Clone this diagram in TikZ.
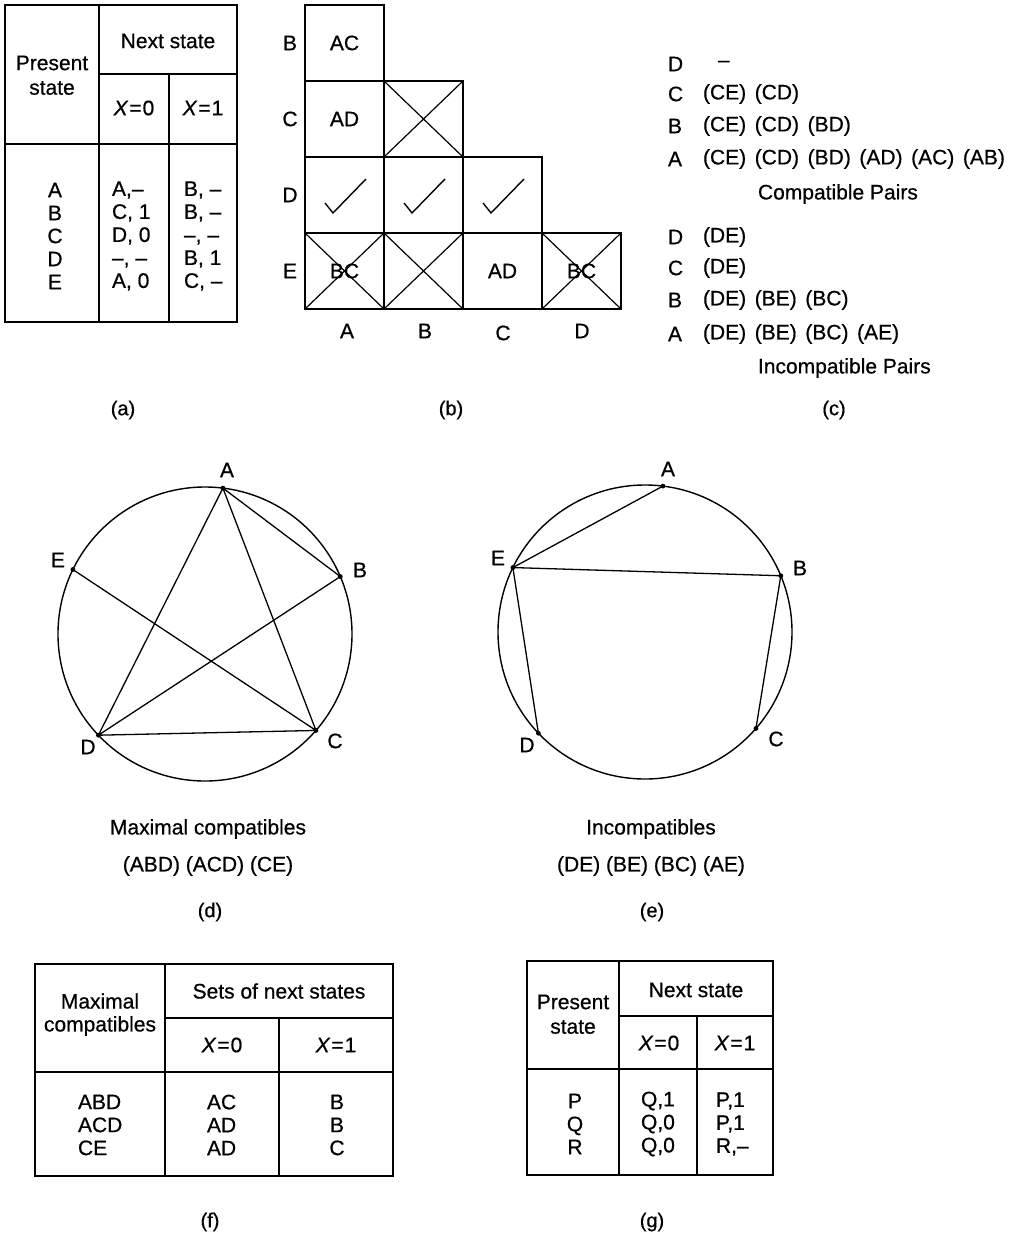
\documentclass[tikz,border=0pt]{standalone}
\usepackage{fontspec}
\setmainfont{Liberation Sans}[FakeBold=0.6]
\usetikzlibrary{calc}
\begin{document}
\begin{tikzpicture}[x=1pt,y=-1pt,
  every node/.style={inner sep=0pt,outer sep=0pt,font=\fontsize{21}{23}\selectfont},
  tbl/.style={line width=1.4pt},
  cell/.style={draw,line width=1.6pt,minimum width=79pt,minimum height=76pt},
  cross/.style={line width=1.2pt},
  chk/.style={line width=1.4pt},
  circ/.style={line width=1.4pt},
  chord/.style={line width=1.3pt},
  figlbl/.style={font=\fontsize{20}{22}\selectfont},
  rows/.style={align=left,font=\fontsize{21}{23}\selectfont},
  rowsc/.style={align=center,font=\fontsize{21}{23}\selectfont},
]
\useasboundingbox (0,0) rectangle (1013,1239);

% ---------------- (a) ----------------
\draw[tbl] (5,5) rectangle (237,322);
\draw[tbl] (99,5) -- (99,322);
\draw[tbl] (5,144) -- (237,144);
\draw[tbl] (99,74) -- (237,74);
\draw[tbl] (169,74) -- (169,322);
\node (aP1) at (52,63) {Present};
\node (aP2) at (52,88) {state};
\node (aNS) at (168,41) {Next state};
\node (aX0) at (134,108) {\textit{X}\kern1pt=\kern1pt0};
\node (aX1) at (203,108) {\textit{X}\kern1pt=\kern1pt1};
\node[rowsc] (aR1) at (55,236) {A\\B\\C\\D\\E};
\node[rows,anchor=west] (aR2) at (112,236) {A,--\\C, 1\\D, 0\\--, --\\A, 0};
\node[rows,anchor=west] (aR3) at (184,236) {B, --\\B, --\\--, --\\B, 1\\C, --};
\node[figlbl] (la) at (123,410) {(a)};

% ---------------- (b) ----------------
\node[cell] (cBA) at (344.5,43) {AC};
\node[cell] (cCA) at (344.5,119) {AD};
\node[cell] (cCB) at (423.5,119) {};
\node[cell] (cDA) at (344.5,195) {};
\node[cell] (cDB) at (423.5,195) {};
\node[cell] (cDC) at (502.5,195) {};
\node[cell] (cEA) at (344.5,271) {};
\node[cell] (cEB) at (423.5,271) {};
\node[cell] (cEC) at (502.5,271) {AD};
\node[cell] (cED) at (581.5,271) {};
\foreach \c in {cCB,cEA,cEB,cED}{
  \draw[cross] (\c.north west) -- (\c.south east) (\c.north east) -- (\c.south west);
}
\node (tEA) at (cEA) {BC};
\node (tED) at (cED) {BC};
\foreach \c in {cDA,cDB,cDC}{
  \draw[chk] ([shift={(20,46)}]\c.north west) -- ([shift={(28,56)}]\c.north west) -- ([shift={(61,22)}]\c.north west);
}
\node (rB) at (290,43) {B};
\node (rC) at (290,119) {C};
\node (rD) at (290,195) {D};
\node (rE) at (290,271) {E};
\node (kA) at (347,331) {A};
\node (kB) at (425,331) {B};
\node (kC) at (503,333) {C};
\node (kD) at (582,331) {D};
\node[figlbl] (lb) at (451,410) {(b)};

% ---------------- (c) ----------------
\node[anchor=west] (c1l) at (668,64) {D};
\node[anchor=west] (c1r) at (718,64) {--};
\node[anchor=west] (c2l) at (668,94) {C};
\node[anchor=west] (c2r) at (703,94) {(CE)\hspace{8.6pt}(CD)};
\node[anchor=west] (c3l) at (668,126) {B};
\node[anchor=west] (c3r) at (703,126) {(CE)\hspace{8.6pt}(CD)\hspace{8.6pt}(BD)};
\node[anchor=west] (c4l) at (668,159) {A};
\node[anchor=west] (c4r) at (703,159) {(CE)\hspace{8.6pt}(CD)\hspace{8.6pt}(BD)\hspace{8.6pt}(AD)\hspace{8.6pt}(AC)\hspace{8.6pt}(AB)};
\node[anchor=west] (cCP) at (758,194) {Compatible Pairs};
\node[anchor=west] (c5l) at (668,237) {D};
\node[anchor=west] (c5r) at (703,237) {(DE)};
\node[anchor=west] (c6l) at (668,268) {C};
\node[anchor=west] (c6r) at (703,268) {(DE)};
\node[anchor=west] (c7l) at (668,300) {B};
\node[anchor=west] (c7r) at (703,300) {(DE)\hspace{8.6pt}(BE)\hspace{8.6pt}(BC)};
\node[anchor=west] (c8l) at (668,334) {A};
\node[anchor=west] (c8r) at (703,334) {(DE)\hspace{8.6pt}(BE)\hspace{8.6pt}(BC)\hspace{8.6pt}(AE)};
\node[anchor=west] (cIP) at (758,368) {Incompatible Pairs};
\node[figlbl] (lc) at (834,410) {(c)};

% ---------------- (d) ----------------
\coordinate (dc) at (205,634);
\draw[circ] (dc) circle[radius=147pt];
\coordinate (dA) at ($(dc)+(83:147pt)$);
\coordinate (dB) at ($(dc)+(23:147pt)$);
\coordinate (dC) at ($(dc)+(319:147pt)$);
\coordinate (dD) at ($(dc)+(223.5:147pt)$);
\coordinate (dE) at ($(dc)+(154:147pt)$);
\draw[chord] (dA) -- (dD) (dA) -- (dC) (dA) -- (dB) (dE) -- (dC) (dB) -- (dD) (dD) -- (dC);
\foreach \p in {dA,dB,dC,dD,dE}{\fill (\p) circle[radius=2.4pt];}
\node (dlA) at (227,470) {A};
\node (dlB) at (360,570) {B};
\node (dlC) at (335,741) {C};
\node (dlD) at (88,747) {D};
\node (dlE) at (58,560) {E};
\node (dcap1) at (208,829) {Maximal compatibles};
\node (dcap2) at (208,866) {(ABD) (ACD) (CE)};
\node[figlbl] (ld) at (210,912) {(d)};

% ---------------- (e) ----------------
\coordinate (ec) at (645,632);
\draw[circ] (ec) circle[radius=147pt];
\coordinate (eA) at ($(ec)+(83:147pt)$);
\coordinate (eB) at ($(ec)+(22.5:147pt)$);
\coordinate (eC) at ($(ec)+(319:147pt)$);
\coordinate (eD) at ($(ec)+(223.5:147pt)$);
\coordinate (eE) at ($(ec)+(154:147pt)$);
\draw[chord] (eE) -- (eA) (eE) -- (eB) (eE) -- (eD) (eB) -- (eC);
\foreach \p in {eA,eB,eC,eD,eE}{\fill (\p) circle[radius=2.4pt];}
\node (elA) at (668,469) {A};
\node (elB) at (800,568) {B};
\node (elC) at (776,739) {C};
\node (elD) at (527,745) {D};
\node (elE) at (498,558) {E};
\node (ecap1) at (651,829) {Incompatibles};
\node (ecap2) at (651,866) {(DE) (BE) (BC) (AE)};
\node[figlbl] (le) at (652,912) {(e)};

% ---------------- (f) ----------------
\draw[tbl] (35,964) rectangle (393,1176);
\draw[tbl] (165,964) -- (165,1176);
\draw[tbl] (35,1072) -- (393,1072);
\draw[tbl] (165,1018) -- (393,1018);
\draw[tbl] (279,1018) -- (279,1176);
\node (fM1) at (100,1001) {Maximal};
\node (fM2) at (100,1026) {compatibles};
\node (fS) at (279,991) {Sets of next states};
\node (fX0) at (222,1045) {\textit{X}\kern1pt=\kern1pt0};
\node (fX1) at (336,1045) {\textit{X}\kern1pt=\kern1pt1};
\node[rows,anchor=west] (fR1) at (78,1125) {ABD\\ACD\\CE};
\node[rows,anchor=west] (fR2) at (207,1125) {AC\\AD\\AD};
\node[rowsc] (fR3) at (337,1125) {B\\B\\C};
\node[figlbl] (lf) at (210,1222) {(f)};

% ---------------- (g) ----------------
\draw[tbl] (527,961) rectangle (773,1175);
\draw[tbl] (619,961) -- (619,1175);
\draw[tbl] (527,1069) -- (773,1069);
\draw[tbl] (619,1016) -- (773,1016);
\draw[tbl] (697,1016) -- (697,1175);
\node (gP1) at (573,1002) {Present};
\node (gP2) at (573,1027) {state};
\node (gNS) at (696,990) {Next state};
\node (gX0) at (659,1043) {\textit{X}\kern1pt=\kern1pt0};
\node (gX1) at (735,1043) {\textit{X}\kern1pt=\kern1pt1};
\node[rowsc] (gR1) at (575,1124) {P\\Q\\R};
\node[rows,anchor=west] (gR2) at (641,1124) {Q,1\\Q,0\\Q,0};
\node[rows,anchor=west] (gR3) at (716,1124) {P,1\\P,1\\R,--};
\node[figlbl] (lg) at (652,1222) {(g)};
\end{tikzpicture}
\end{document}
